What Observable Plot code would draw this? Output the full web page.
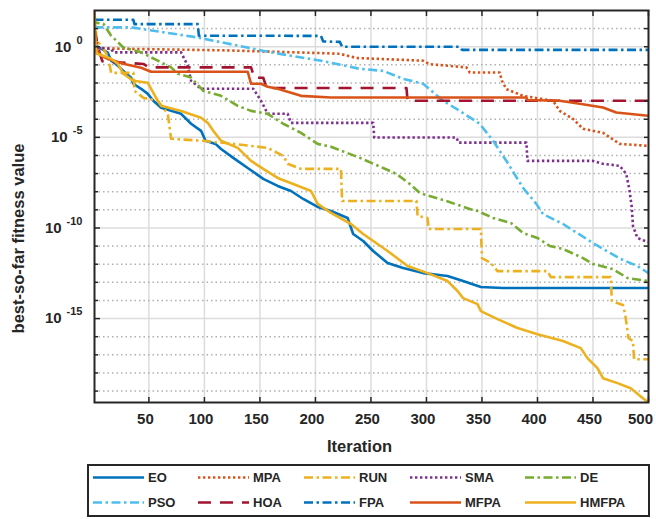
<!DOCTYPE html>
<html>
<head>
<meta charset="utf-8">
<script src="https://cdn.jsdelivr.net/npm/d3@7"></script>
<script src="https://cdn.jsdelivr.net/npm/@observablehq/plot@0.6"></script>
<style>
  body { margin: 0; background: #fff; }
  #chart { position: relative; width: 656px; height: 519px; font-family: "Liberation Sans", Arial, Helvetica, sans-serif; }
  #chart > svg.plot { position: absolute; left: 0; top: 0; }
  #legend { position: absolute; left: 87px; top: 464px; }
</style>
</head>
<body>
<div id="chart"></div>
<script>
// Convergence curves: [iteration, log10(best-so-far fitness)]
const eoLog = [[1,0.61],[2,0.06],[7,-0.11],[13,-0.33],[16,-0.77],[20,-0.94],[27,-1.33],[34,-1.71],[36,-2.04],[43,-2.32],[49,-2.60],[54,-2.98],[61,-3.37],[79,-3.70],[88,-4.25],[97,-4.64],[101,-5.19],[110,-5.36],[115,-5.64],[126,-6.13],[139,-6.69],[153,-7.29],[166,-7.68],[178,-7.96],[189,-8.40],[202,-8.84],[214,-9.06],[229,-9.45],[234,-10.33],[243,-10.72],[252,-11.27],[265,-11.93],[279,-12.21],[297,-12.49],[319,-12.65],[333,-12.93],[349,-13.26],[369,-13.31],[500,-13.31]];
const mpaLog = [[1,0.8],[3,0.4],[5,-0.09],[120,-0.2],[205,-0.35],[222,-0.39],[237,-0.62],[297,-0.77],[303,-0.96],[336,-1.14],[339,-1.42],[366,-1.42],[368,-1.88],[372,-2.34],[387,-2.71],[414,-2.98],[420,-3.54],[432,-3.98],[441,-4.53],[459,-4.75],[474,-5.36],[500,-5.47]];
const runLog = [[1,1.9],[3,0.33],[7,0.06],[13,-0.50],[16,-1.44],[36,-1.44],[37,-2.43],[45,-2.82],[58,-2.98],[67,-3.70],[70,-5.08],[99,-5.19],[126,-5.36],[157,-5.58],[171,-6.02],[175,-6.46],[187,-6.74],[223,-6.74],[224,-8.51],[291,-8.51],[292,-9.34],[301,-9.45],[302,-10.06],[349,-10.06],[350,-11.66],[358,-11.93],[364,-12.38],[409,-12.38],[412,-12.71],[466,-12.71],[467,-14.03],[477,-14.25],[479,-14.75],[482,-16.08],[486,-16.24],[487,-17.24],[500,-17.24]];
const smaLog = [[1,0.5],[2,0.24],[4,-0.06],[16,-0.11],[18,-0.31],[79,-0.31],[85,-1.05],[88,-1.88],[97,-2.32],[144,-2.32],[151,-2.98],[157,-3.70],[175,-3.70],[178,-4.20],[252,-4.20],[253,-5.01],[327,-5.01],[329,-5.29],[390,-5.29],[391,-6.30],[450,-6.30],[459,-6.46],[474,-6.57],[480,-7.02],[483,-7.96],[485,-8.90],[486,-9.89],[490,-10.55],[497,-10.72],[500,-10.77]];
const deLog = [[1,1.6],[2,1.33],[9,1.27],[16,0.61],[27,-0.04],[43,-0.31],[58,-0.77],[70,-1.14],[76,-1.49],[88,-1.70],[99,-2.43],[115,-2.71],[130,-3.26],[142,-3.54],[157,-3.70],[171,-4.25],[187,-4.75],[202,-5.36],[214,-5.52],[240,-6.13],[261,-6.69],[273,-7.02],[285,-7.57],[294,-8.07],[318,-8.51],[339,-8.95],[346,-9.06],[360,-9.45],[376,-9.72],[387,-10.28],[400,-10.55],[411,-10.99],[423,-11.16],[441,-11.66],[450,-11.99],[468,-12.27],[481,-12.76],[500,-12.93]];
const psoLog = [[1,1.07],[34,1.07],[94,0.51],[160,-0.31],[205,-0.77],[240,-1.22],[261,-1.33],[279,-1.77],[297,-2.04],[315,-2.98],[330,-3.54],[348,-4.25],[360,-5.19],[372,-6.30],[387,-7.79],[399,-8.67],[405,-9.23],[423,-9.78],[450,-10.83],[475,-11.71],[490,-12.10],[500,-12.49]];
const hoaLog = [[1,1.0],[4,0.0],[8,-0.8],[45,-0.95],[50,-1.14],[142,-1.14],[145,-1.71],[153,-1.71],[156,-2.28],[282,-2.28],[283,-2.98],[500,-2.98]];
const fpaLog = [[1,1.49],[36,1.49],[37,1.25],[94,1.25],[95,0.61],[205,0.60],[207,0.29],[222,0.27],[224,0.0],[330,0.0],[332,-0.17],[500,-0.17]];
const mfpaLog = [[1,0.2],[2,-0.11],[7,-0.50],[13,-0.66],[27,-0.94],[43,-1.16],[52,-1.38],[139,-1.38],[142,-2.04],[151,-2.04],[157,-2.21],[166,-2.32],[187,-2.71],[214,-2.80],[390,-2.80],[391,-2.94],[420,-2.98],[438,-3.15],[459,-3.35],[471,-3.63],[500,-3.81]];
const hmfpaLog = [[1,1.95],[2,0.06],[3,-0.39],[9,-0.50],[16,-0.66],[22,-0.94],[27,-1.49],[36,-1.88],[49,-1.99],[54,-2.54],[58,-2.98],[61,-3.26],[79,-3.54],[97,-3.92],[103,-4.20],[108,-4.64],[115,-5.19],[130,-5.58],[142,-6.30],[153,-6.74],[166,-7.24],[180,-7.57],[196,-7.96],[202,-8.67],[214,-9.17],[232,-9.78],[243,-10.33],[265,-11.27],[283,-12.10],[301,-12.49],[319,-12.93],[328,-13.48],[333,-13.87],[346,-14.20],[349,-14.59],[364,-15.03],[382,-15.52],[400,-15.86],[423,-16.24],[439,-16.63],[445,-17.18],[454,-17.73],[459,-18.29],[472,-18.56],[484,-18.84],[495,-19.39],[500,-19.63]];

const methods = ["EO", "MPA", "RUN", "SMA", "DE", "PSO", "HOA", "FPA", "MFPA", "HMFPA"];
const colors = ["#0072BD", "#D95319", "#EDB120", "#7E2F8E", "#77AC30", "#4DBEEE", "#A2142F", "#0072BD", "#D95319", "#EDB120"];
const lineStyles = ["solid", "dotted", "dashdot", "dotted", "dashdot", "dashdot", "dashed", "dashdot", "solid", "solid"];
const curves = [eoLog, mpaLog, runLog, smaLog, deLog, psoLog, hoaLog, fpaLog, mfpaLog, hmfpaLog];

const iterTicks = [50, 100, 150, 200, 250, 300, 350, 400, 450, 500];
const labelledExponents = [0, -5, -10, -15];
const gridExponents = [1, 0, -1, -2, -3, -4, -5, -6, -7, -8, -9, -10, -11, -12, -13, -14, -15, -16, -17, -18, -19];
const xDomain = [1, 500];
const yDomainExp = [-19.63, 2];
const xLabel = "Iteration";
const yLabel = "best-so-far fitness value";

const dashes = {solid: null, dotted: "2.4,2.6", dashdot: "9,3.5,2.5,3.5", dashed: "13,9"};
const ink = "#262626";

const rows = methods.flatMap((m, i) => curves[i].map(([iter, lg]) => ({method: m, iter, value: 10 ** lg})));

const W = 656, H = 462;
const mL = 94, mR = 8, mT = 10, mB = 60;
const innerW = W - mL - mR, innerH = H - mT - mB;

const majorVals = labelledExponents.map(e => 10 ** e);
const minorVals = gridExponents.filter(e => !labelledExponents.includes(e)).map(e => 10 ** e);
const allVals = gridExponents.map(e => 10 ** e);
const lastTick = iterTicks[iterTicks.length - 1];

const tickText = {tickSize: 0, tickPadding: 11, fontSize: 15, fontWeight: "bold", fill: ink, label: null};

const chart = Plot.plot({
  width: W,
  height: H,
  marginLeft: mL,
  marginRight: mR,
  marginTop: mT,
  marginBottom: mB,
  style: {fontFamily: '"Liberation Sans", Arial, Helvetica, sans-serif', color: ink, background: "#fff"},
  x: {domain: xDomain, label: null},
  y: {type: "log", domain: yDomainExp.map(e => 10 ** e), label: null},
  marks: [
    // grid
    Plot.ruleX(iterTicks, {x: d => d, stroke: "#dcdcdc", strokeWidth: 1.5}),
    Plot.ruleY(minorVals, {y: d => d, stroke: "#b0b0b0", strokeWidth: 1.5, strokeDasharray: "1.5,3"}),
    Plot.ruleY(majorVals, {y: d => d, stroke: "#dcdcdc", strokeWidth: 1.5}),
    // convergence curves
    ...methods.map((m, i) => Plot.line(rows.filter(r => r.method === m), {
      x: "iter", y: "value",
      stroke: colors[i], strokeWidth: 2.6,
      strokeDasharray: dashes[lineStyles[i]],
      strokeLinecap: "butt", strokeLinejoin: "round",
      clip: true
    })),
    // box and inward ticks
    Plot.frame({stroke: ink, strokeWidth: 2}),
    Plot.tickY(minorVals, {y: d => d, insetRight: innerW - 4, stroke: ink, strokeWidth: 1.5}),
    Plot.tickY(majorVals, {y: d => d, insetRight: innerW - 6, stroke: ink, strokeWidth: 1.5}),
    Plot.tickY(allVals, {y: d => d, insetLeft: innerW - 4, stroke: ink, strokeWidth: 1.5}),
    Plot.tickX(iterTicks, {x: d => d, insetTop: innerH - 5, stroke: ink, strokeWidth: 1.5}),
    Plot.tickX(iterTicks, {x: d => d, insetBottom: innerH - 6, stroke: ink, strokeWidth: 1.5}),
    // axes
    Plot.axisX(iterTicks.filter(t => t !== lastTick), {...tickText, dx: -3.5}),
    Plot.axisX([lastTick], {...tickText, dx: -8}),
    Plot.axisY(majorVals, {...tickText, tickPadding: 12, tickFormat: d => String(Math.round(Math.log10(d)))}),
    Plot.text([xLabel], {frameAnchor: "bottom", lineAnchor: "middle", dy: 44.5, dx: -12, fontSize: 16.5, fontWeight: "bold", fill: ink}),
    Plot.text([yLabel], {frameAnchor: "left", textAnchor: "middle", lineAnchor: "middle", dx: -76, dy: 32, rotate: -90, fontSize: 16.5, fontWeight: "bold", fill: ink})
  ]
});

// y tick labels as 10 with a raised exponent
d3.select(chart).selectAll('g[aria-label="y-axis tick label"] text').each(function () {
  const e = this.textContent;
  const t = d3.select(this);
  t.text("10");
  t.append("tspan").attr("dx", 5).attr("dy", -8).attr("font-size", 11).text(e);
});

const root = document.getElementById("chart");
root.appendChild(chart);

// legend below the plot
const legW = 563, legH = 53;
const colStart = [6, 111, 217, 323, 438];
const rowY = [13.5, 38.5];
const sampleLen = 51;
const leg = d3.select(root).append("svg")
  .attr("id", "legend")
  .attr("width", legW).attr("height", legH)
  .style("font-family", '"Liberation Sans", Arial, Helvetica, sans-serif');
leg.append("rect").attr("x", 1).attr("y", 1).attr("width", legW - 2).attr("height", legH - 2)
  .attr("fill", "#fff").attr("stroke", ink).attr("stroke-width", 2);
methods.forEach((m, i) => {
  const col = i % 5, row = Math.floor(i / 5);
  const x0 = colStart[col], y0 = rowY[row];
  leg.append("line")
    .attr("x1", x0).attr("x2", x0 + sampleLen).attr("y1", y0).attr("y2", y0)
    .attr("stroke", colors[i]).attr("stroke-width", 2.6)
    .attr("stroke-dasharray", dashes[lineStyles[i]])
    .attr("stroke-linecap", "butt");
  leg.append("text")
    .attr("x", x0 + sampleLen + 4).attr("y", y0).attr("dy", "0.35em")
    .attr("font-size", 13).attr("font-weight", "bold").attr("fill", ink)
    .text(m);
});
</script>
</body>
</html>
